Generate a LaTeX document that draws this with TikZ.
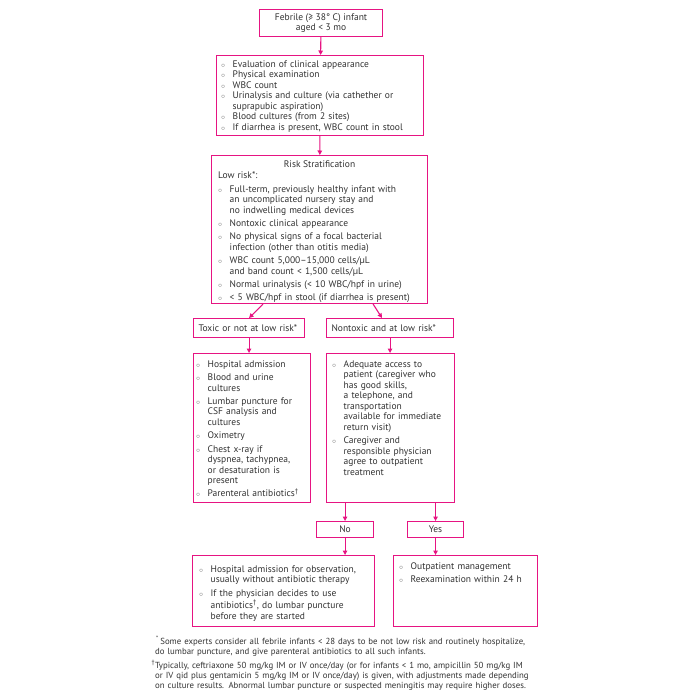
\documentclass[tikz,border=0pt]{standalone}
\usepackage{fontspec}
\setmainfont{PT Sans}
\usetikzlibrary{arrows.meta, calc, positioning}

\definecolor{flowpink}{RGB}{230,20,130}
\definecolor{flowtext}{RGB}{50,50,50}
\newlength{\bind}\setlength{\bind}{11.5pt}
\newcommand{\bmark}{{\color{flowtext!80}\scriptsize$\circ$}}
\newcommand{\bitem}[1]{\begingroup\def\\{\hfil\break}\hangindent=\bind\hangafter=1\noindent\makebox[\bind][l]{\bmark}\strut#1\par\endgroup}

\begin{document}
\begin{tikzpicture}[x = 1pt, y = -1pt,
  frame/.style = {draw = flowpink, line width = 1.1pt, anchor = north west, inner sep = 0pt, text = flowtext, font = \fontsize{9.5}{10.5}\selectfont},
  txt/.style = {anchor = north west, inner sep = 0pt, text width = #1, align = left, text = flowtext, font = \fontsize{9.5}{10.5}\selectfont\setlength{\parskip}{2.8pt}},
  arr/.style = {draw = flowpink, line width = 1.1pt, -{Triangle[length = 4.5pt, width = 4.5pt]}}]
\useasboundingbox[fill = white] (0,0) rectangle (700,700);

% start
\node[frame, minimum width = 123pt, minimum height = 27pt, align = center] (febrile) at (259,9) {Febrile (≥ 38° C) infant\\aged < 3 mo};

% evaluation
\node[frame, minimum width = 207pt, minimum height = 80pt] (eval) at (216,55) {};
\node[txt = 201pt, font = \fontsize{9.5}{10.5}\selectfont\setlength{\parskip}{0pt}] (evaltxt) at (221,59.8) {%
\bitem{Evaluation of clinical appearance}
\bitem{Physical examination}
\bitem{WBC count}
\bitem{Urinalysis and culture (via cathether or\\suprapubic aspiration)}
\bitem{Blood cultures (from 2 sites)}
\bitem{If diarrhea is present, WBC count in stool}};

% risk stratification
\node[frame, minimum width = 216pt, minimum height = 148pt] (risk) at (211,155) {};
\node[anchor = base, inner sep = 0pt, text = flowtext, font = \fontsize{9.5}{10.5}\selectfont] (risktitle) at ($(risk.north)+(0,13)$) {Risk Stratification};
\node[txt = 207pt] (risktxt) at (218,171.3) {%
\noindent\strut Low risk*:\par
\bitem{Full-term, previously healthy infant with\\an uncomplicated nursery stay and\\no indwelling medical devices}
\bitem{Nontoxic clinical appearance}
\bitem{No physical signs of a focal bacterial\\infection (other than otitis media)}
\bitem{WBC count 5,000–15,000 cells/µL\\and band count < 1,500 cells/µL}
\bitem{Normal urinalysis (< 10 WBC/hpf in urine)}
\bitem{< 5 WBC/hpf in stool (if diarrhea is present)}};

% branches
\node[frame, minimum height = 19pt, text width = 101pt, inner xsep = 5pt, align = left] (toxic) at (193,318) {Toxic or not at low risk*};
\node[frame, minimum height = 19pt, text width = 117pt, inner xsep = 5pt, align = left] (nontox) at (326,318) {Nontoxic and at low risk*};

\node[frame, minimum width = 117pt, minimum height = 149pt] (hosp) at (193,353) {};
\node[txt = 113pt] (hosptxt) at (196,359.8) {%
\bitem{Hospital admission}
\bitem{Blood and urine\\cultures}
\bitem{Lumbar puncture for\\CSF analysis and\\cultures}
\bitem{Oximetry}
\bitem{Chest x-ray if\\dyspnea, tachypnea,\\or desaturation is\\present}
\bitem{Parenteral antibiotics\textsuperscript{†}}};

\node[frame, minimum width = 128pt, minimum height = 149pt] (outcond) at (326,353) {};
\node[txt = 121pt] (outcondtxt) at (332,359.8) {%
\bitem{Adequate access to\\patient (caregiver who\\has good skills,\\a telephone, and\\transportation\\available for immediate\\return visit)}
\bitem{Caregiver and\\responsible physician\\agree to outpatient\\treatment}};

% answers
\node[frame, minimum width = 57pt, minimum height = 16pt] (no) at (316,521) {No};
\node[frame, minimum width = 56pt, minimum height = 16pt] (yes) at (407,521) {Yes};

\node[frame, minimum width = 182pt, minimum height = 71pt] (hospobs) at (192,555) {};
\node[txt = 174pt] (hospobstxt) at (199,564.8) {%
\bitem{Hospital admission for observation,\\usually without antibiotic therapy}
\bitem{If the physician decides to use\\antibiotics\textsuperscript{†}, do lumbar puncture\\before they are started}};

\node[frame, minimum width = 144pt, minimum height = 71pt] (outmgmt) at (393,555) {};
\node[txt = 137pt] (outmgmttxt) at (399,561.8) {%
\bitem{Outpatient management}
\bitem{Reexamination within 24 h}};

% footnotes
\node[anchor = north west, inner sep = 0pt, text width = 400pt, align = left, text = flowtext, font = \fontsize{8.8}{10}\selectfont\setlength{\parskip}{3pt}] (notes) at (155,636) {%
\noindent\strut\hspace{1pt}\textsuperscript{*}\,Some experts consider all febrile infants < 28 days to be not low risk and routinely hospitalize,\\do lumbar puncture, and give parenteral antibiotics to all such infants.\par
\noindent\strut\llap{\textsuperscript{†}}Typically, ceftriaxone 50 mg/kg IM or IV once/day (or for infants < 1 mo, ampicillin 50 mg/kg IM\\or IV qid plus gentamicin 5 mg/kg IM or IV once/day) is given, with adjustments made depending\\on culture results. Abnormal lumbar puncture or suspected meningitis may require higher doses.\par};

% connectors
\draw[arr] (febrile) -- (eval);
\draw[arr] (eval) -- (risk);
\draw[arr] ($(risk.south west)+(52,0)$) -- (toxic.north);
\draw[arr] ($(risk.south east)+(-55,0)$) -- ($(nontox.north west)+(56,0)$);
\draw[arr] (toxic.south) -- (toxic.south |- hosp.north);
\draw[arr] (nontox.south) -- (nontox.south |- outcond.north);
\draw[arr] (no.north |- outcond.south) -- (no.north);
\draw[arr] (yes.north |- outcond.south) -- (yes.north);
\draw[arr] (no.south) -- (no.south |- hospobs.north);
\draw[arr] (yes.south) -- (yes.south |- outmgmt.north);
\end{tikzpicture}
\end{document}
